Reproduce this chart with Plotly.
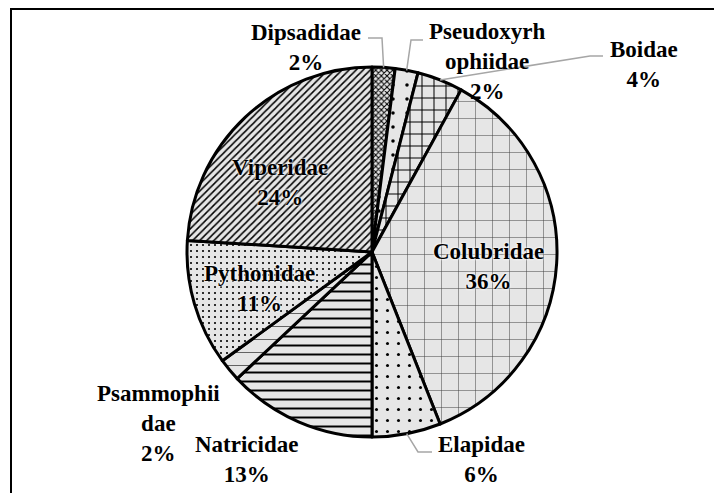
import math
import plotly.graph_objects as go

# ---- data ----
families = ["Dipsadidae", "Pseudoxyrhophiidae", "Boidae", "Colubridae", "Elapidae",
            "Natricidae", "Psammophiidae", "Pythonidae", "Viperidae"]
percent = [2, 2, 4, 36, 6, 13, 2, 11, 24]
label_lines = [["Dipsadidae", "2%"], ["Pseudoxyrh", "ophiidae", "2%"], ["Boidae", "4%"],
               ["Colubridae", "36%"], ["Elapidae", "6%"], ["Natricidae", "13%"],
               ["Psammophii", "dae", "2%"], ["Pythonidae", "11%"], ["Viperidae", "24%"]]
inside_labels = ["Colubridae", "Pythonidae", "Viperidae"]

# ---- styling ----
W, H = 722, 493
OFF = 8  # page body margin in the browser
CX, CY, R = 372, 252, 185
shapes_pat = ["x", ".", "+", "+", ".", "-", "-", ".", "/"]
sizes_pat = [4, 14, 12, 17, 11, 9, 13, 6, 5]
solid_pat = [0.45, 0.05, 0.16, 0.06, 0.06, 0.22, 0.07, 0.1, 0.3]
fg_pat = ["black", "black", "black", "#444444", "black", "black", "#555555", "black", "black"]
label_pos = {  # text block centres in px (window coords)
    "Dipsadidae": (306, 47), "Pseudoxyrhophiidae": (487, 61), "Boidae": (644, 64),
    "Colubridae": (488, 266), "Elapidae": (481, 459), "Natricidae": (246, 459),
    "Psammophiidae": (158, 423), "Pythonidae": (259, 288), "Viperidae": (280, 183),
}
leader_text_end = {  # (x of text end, x of elbow, y)
    "Dipsadidae": (368, 382, 38), "Pseudoxyrhophiidae": (423, 411, 40),
    "Boidae": (603, 590, 56), "Elapidae": (432, 418, 452),
}

def px(x, y):
    return (x - OFF) / W, 1 - (y - OFF) / H

fig = go.Figure(go.Pie(
    labels=families, values=percent, sort=False, direction="clockwise", rotation=0,
    textinfo="none", hoverinfo="label+percent",
    marker=dict(colors=["#e6e6e6"] * len(families),
                line=dict(color="black", width=3),
                pattern=dict(shape=shapes_pat, size=sizes_pat, solidity=solid_pat,
                             fgcolor=fg_pat, bgcolor=["#e6e6e6"] * len(families),
                             fillmode="replace")),
    domain=dict(x=[px(CX - R, 0)[0], px(CX + R, 0)[0]],
                y=[px(0, CY + R)[1], px(0, CY - R)[1]]),
    showlegend=False,
))

annotations = []
for fam, lines in zip(families, label_lines):
    x, y = px(*label_pos[fam])
    font = dict(family="Liberation Serif", size=23, color="black", weight="bold")
    if fam in inside_labels:
        font["shadow"] = "0px 0px 3px white, 0px 0px 2px white"
    annotations.append(dict(x=x, y=y, xref="paper", yref="paper", text="<br>".join(lines),
                            showarrow=False, font=font, xanchor="center", yanchor="middle"))

shapes = []
# leader lines: anchored on slice mid-angle at pie edge
total = sum(percent)
cum = 0
for fam, v in zip(families, percent):
    mid = (cum + v / 2) / total * 2 * math.pi
    cum += v
    if fam in leader_text_end:
        xt, xe, yt = leader_text_end[fam]
        ax = CX + R * math.sin(mid)
        ay = CY - R * math.cos(mid)
        p = [px(xt, yt), px(xe, yt), px(ax, ay)]
        path = "M {} {} L {} {} L {} {}".format(p[0][0], p[0][1], p[1][0], p[1][1], p[2][0], p[2][1])
        shapes.append(dict(type="path", path=path, xref="paper", yref="paper",
                           line=dict(color="#a6a6a6", width=1.5)))
# frame
x0, y0 = px(11, 9)
x1, _ = px(719, 0)
shapes.append(dict(type="rect", xref="paper", yref="paper", x0=x0, y0=y0, x1=x1, y1=-0.1,
                   line=dict(color="black", width=2)))

fig.update_layout(width=W, height=H, margin=dict(l=0, r=0, t=0, b=0),
                  paper_bgcolor="white", plot_bgcolor="white",
                  annotations=annotations, shapes=shapes)
fig.write_html("out.html")
